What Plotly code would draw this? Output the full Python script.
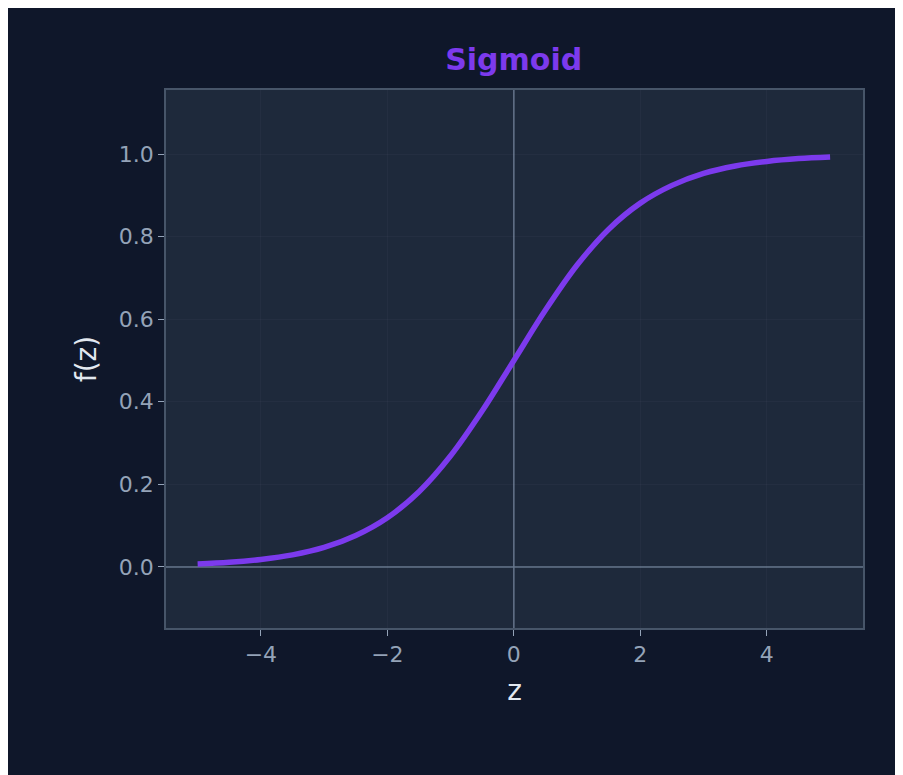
import plotly.graph_objects as go

z_vals = [-5, -4.5, -4, -3.5, -3, -2.5, -2, -1.5, -1, -0.5, 0, 0.5, 1, 1.5, 2, 2.5, 3, 3.5, 4, 4.5, 5]
f_vals = [0.007, 0.011, 0.018, 0.029, 0.047, 0.076, 0.119, 0.182, 0.269, 0.378, 0.5,
          0.622, 0.731, 0.818, 0.881, 0.924, 0.953, 0.971, 0.982, 0.989, 0.993]
x_ticks = [-4, -2, 0, 2, 4]
x_tick_labels = ["−4", "−2", "0", "2", "4"]
y_ticks = [0.0, 0.2, 0.4, 0.6, 0.8, 1.0]
y_tick_labels = ["0.0", "0.2", "0.4", "0.6", "0.8", "1.0"]

fig = go.Figure()
fig.add_trace(go.Scatter(x=z_vals, y=f_vals, mode="lines", line=dict(color="#7c3aed", width=5.5, shape="spline")))
fig.add_hline(y=0, line=dict(color="#64748b", width=1.5), layer="below")
fig.add_vline(x=0, line=dict(color="#64748b", width=1.5), layer="below")

axis_common = dict(showline=True, linecolor="#475569", mirror=True, linewidth=1.5,
                   gridcolor="rgba(148,163,184,0.05)", zeroline=False,
                   ticks="outside", tickcolor="#94a3b8", ticklen=6,
                   tickfont=dict(color="#94a3b8", size=22, family="DejaVu Sans"))
fig.update_layout(
    width=903, height=775,
    paper_bgcolor="#0f172a", plot_bgcolor="#1e293b",
    margin=dict(l=158, r=48, t=82, b=155),
    showlegend=False,
    font=dict(family="DejaVu Sans"),
    title=dict(text="<b>Sigmoid</b>", x=0.560, xanchor="center", y=0.933, yanchor="middle",
               font=dict(color="#7c3aed", size=30, family="DejaVu Sans")),
    xaxis=dict(range=[-5.5, 5.52], tickvals=x_ticks, ticktext=x_tick_labels,
               title=dict(text="z", font=dict(color="#e2e8f0", size=28), standoff=14), **axis_common),
    yaxis=dict(range=[-0.148, 1.155], tickvals=y_ticks, ticktext=y_tick_labels,
               title=dict(text="f(z)", font=dict(color="#e2e8f0", size=28), standoff=14), **axis_common),
)
fig.write_html("out.html")
